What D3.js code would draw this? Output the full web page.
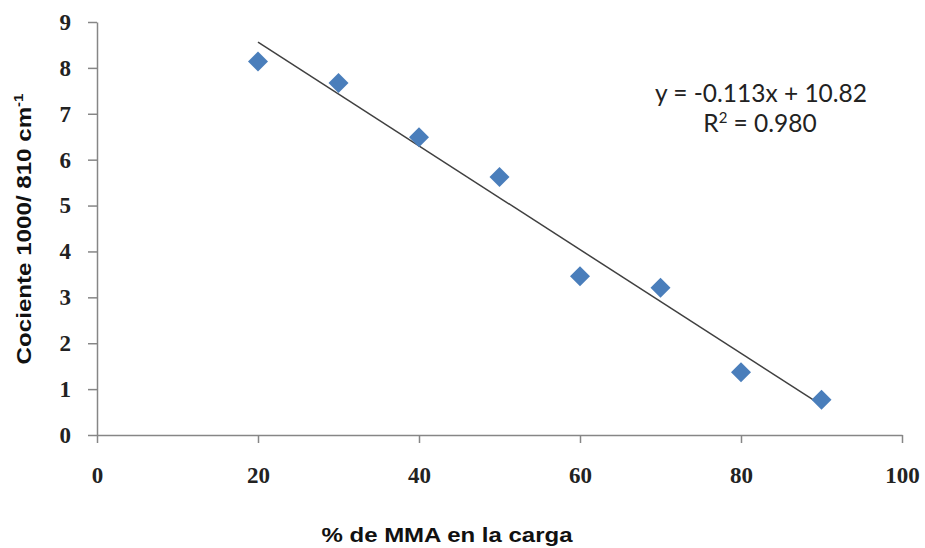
<!DOCTYPE html>
<html>
<head>
<meta charset="utf-8">
<script src="https://cdn.jsdelivr.net/npm/d3@7"></script>
<style>
  body { margin: 0; background: #fff; }
  svg { display: block; }
</style>
</head>
<body>
<svg id="chart" width="925" height="548"></svg>
<script>
// data
const mmaPercent = [20, 30, 40, 50, 60, 70, 80, 90];
const ratio = [8.14, 7.67, 6.49, 5.62, 3.46, 3.21, 1.37, 0.77];
const xTicks = [0, 20, 40, 60, 80, 100];
const yTicks = [0, 1, 2, 3, 4, 5, 6, 7, 8, 9];
// trendline as shown on the chart
const trendSlope = -0.113;
const trendIntercept = 10.82;
const trendRange = [20, 90];

const svg = d3.select("#chart");

var x = d3.scaleLinear()
    .domain([0, 100])
    .range([97, 902]);

var y = d3.scaleLinear()
    .domain([0, 9])
    .range([435, 22]);

const axisColor = "#868686";
const tickFont = "'Liberation Serif', 'DejaVu Serif', serif";

var xAxis = d3.axisBottom(x)
    .tickValues(xTicks)
    .tickSizeInner(8)
    .tickSizeOuter(0)
    .tickPadding(24);

var yAxis = d3.axisLeft(y)
    .tickValues(yTicks)
    .tickSizeInner(9)
    .tickSizeOuter(0)
    .tickPadding(17);

var gx = svg.append("g")
    .attr("transform", "translate(0," + y(0) + ")")
    .call(xAxis);

var gy = svg.append("g")
    .attr("transform", "translate(" + x(0) + ",0)")
    .call(yAxis);

[gx, gy].forEach(function(g) {
    g.select(".domain").attr("stroke", axisColor).attr("stroke-width", 1.5);
    g.selectAll(".tick line").attr("stroke", axisColor).attr("stroke-width", 1.5);
    g.selectAll(".tick text")
        .attr("fill", "#222")
        .attr("font-family", tickFont)
        .attr("font-weight", "bold")
        .attr("font-size", 23);
});

// trendline
var lineMaker = d3.line()
    .x(d => x(d))
    .y(d => y(trendSlope * d + trendIntercept));

svg.append("path")
    .attr("fill", "none")
    .attr("stroke", "#404040")
    .attr("stroke-width", 1.5)
    .attr("d", lineMaker(trendRange));

// points as diamonds
var diamond = d3.symbol().type(d3.symbolSquare).size(200);

svg.append("g")
    .selectAll("path")
    .data(mmaPercent)
    .enter()
    .append("path")
    .attr("d", diamond)
    .attr("fill", "#4a7ebb")
    .attr("transform", (d, i) => "translate(" + x(d) + "," + y(ratio[i]) + ") rotate(45)");

// equation
const eqFont = "Lato, 'Open Sans', sans-serif";
svg.append("text")
    .attr("x", 761)
    .attr("y", 102)
    .attr("text-anchor", "middle")
    .attr("font-family", eqFont)
    .attr("font-size", 24.5)
    .attr("fill", "#222")
    .text("y = -0.113x + 10.82");

var r2 = svg.append("text")
    .attr("x", 760)
    .attr("y", 132)
    .attr("text-anchor", "middle")
    .attr("font-family", eqFont)
    .attr("font-size", 24.5)
    .attr("fill", "#222");
r2.append("tspan").text("R");
r2.append("tspan").attr("dy", -9).attr("font-size", 15).text("2");
r2.append("tspan").attr("dy", 9).text(" = 0.980");

// axis titles (the original is stretched sideways)
const titleFont = "'Liberation Sans', Arial, sans-serif";
svg.append("text")
    .attr("transform", "translate(447,542) scale(1.2,1)")
    .attr("text-anchor", "middle")
    .attr("font-family", titleFont)
    .attr("font-weight", "bold")
    .attr("font-size", 20)
    .attr("fill", "#111")
    .text("% de MMA en la carga");

var yt = svg.append("text")
    .attr("transform", "translate(31,229) rotate(-90) scale(1.15,1)")
    .attr("text-anchor", "middle")
    .attr("font-family", titleFont)
    .attr("font-weight", "bold")
    .attr("font-size", 21)
    .attr("fill", "#111");
yt.append("tspan").text("Cociente 1000/ 810 cm");
yt.append("tspan").attr("dy", -8).attr("font-size", 13).text("-1");
</script>
</body>
</html>
